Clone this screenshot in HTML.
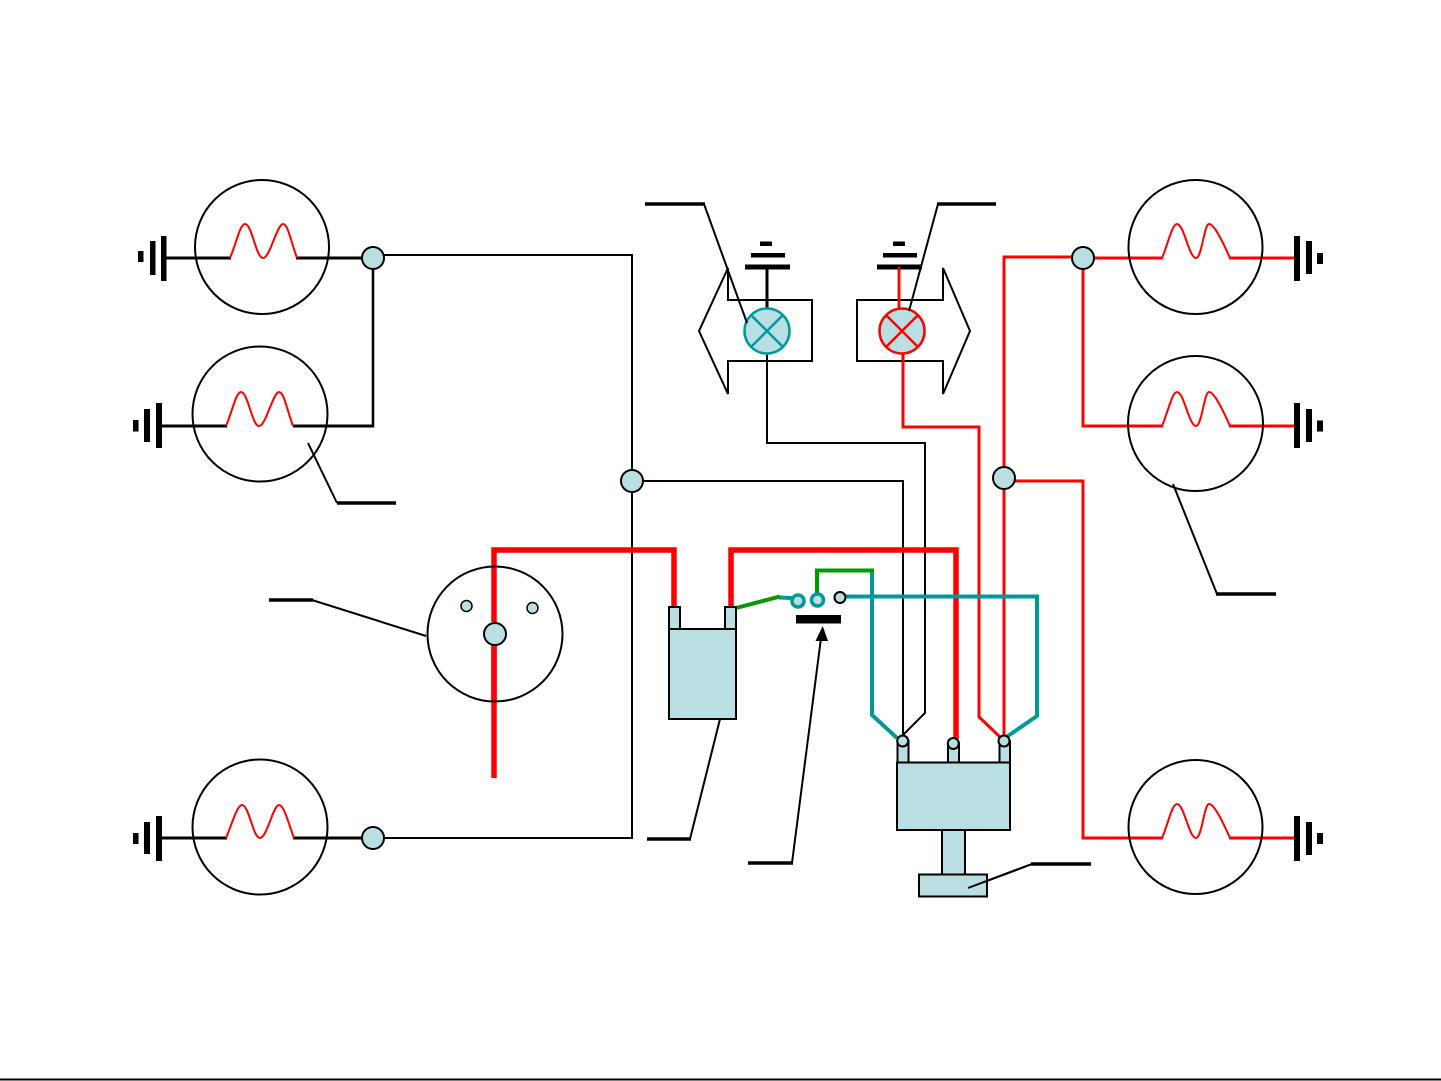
<!DOCTYPE html>
<html><head><meta charset="utf-8"><style>
html,body{margin:0;padding:0;background:#fff;}
svg{display:block;}
</style></head><body>
<svg width="1441" height="1081" viewBox="0 0 1441 1081" xmlns="http://www.w3.org/2000/svg">
<rect width="1441" height="1081" fill="#fff"/>
<g fill="none" stroke-linecap="butt" stroke-linejoin="miter">

<!-- ===== LEFT LAMPS ===== -->
<!-- lamp 1 -->
<circle cx="262" cy="247" r="67" stroke="#000" stroke-width="2"/>
<line x1="164" y1="258" x2="231" y2="258" stroke="#000" stroke-width="3"/>
<line x1="296" y1="258" x2="364" y2="258" stroke="#000" stroke-width="3"/>
<path d="M230,258 C236,244 240,224 245,224 C252,224 256,258 263,258 C270,258 277,224 283,224 C288,224 291,242 297,258" stroke="#f00" stroke-width="2"/>
<!-- lamp 2 -->
<circle cx="260" cy="414" r="67.5" stroke="#000" stroke-width="2"/>
<line x1="160" y1="426" x2="227" y2="426" stroke="#000" stroke-width="3"/>
<line x1="293" y1="426" x2="374" y2="426" stroke="#000" stroke-width="3"/>
<line x1="373" y1="268" x2="373" y2="427" stroke="#000" stroke-width="2.5"/>
<path d="M226,426 C232,412 236,392 241,392 C248,392 252,426 259,426 C266,426 273,392 279,392 C284,392 287,410 293,426" stroke="#f00" stroke-width="2"/>
<!-- lamp 3 (bottom left) -->
<circle cx="260" cy="827" r="67.5" stroke="#000" stroke-width="2"/>
<line x1="160" y1="838" x2="227" y2="838" stroke="#000" stroke-width="3"/>
<line x1="293" y1="838" x2="364" y2="838" stroke="#000" stroke-width="3"/>
<path d="M226,838 C232,824 237,805 242,805 C249,805 253,838 260,838 C267,838 273,805 279,805 C284,805 288,822 294,838" stroke="#f00" stroke-width="2"/>

<!-- black left wiring -->
<line x1="383" y1="255" x2="633" y2="255" stroke="#000" stroke-width="2"/>
<line x1="632" y1="254" x2="632" y2="839" stroke="#000" stroke-width="2"/>
<line x1="383" y1="838" x2="633" y2="838" stroke="#000" stroke-width="2"/>
<line x1="642" y1="481" x2="904" y2="481" stroke="#000" stroke-width="2"/>
<line x1="903" y1="480" x2="903" y2="737" stroke="#000" stroke-width="2"/>
<!-- left indicator to distributor -->
<line x1="767" y1="353" x2="767" y2="443" stroke="#000" stroke-width="2"/>
<line x1="766" y1="443" x2="926" y2="443" stroke="#000" stroke-width="2"/>
<polyline points="925,442 925,713 903,735" stroke="#000" stroke-width="2"/>

<!-- ===== RIGHT RED WIRING ===== -->
<polyline points="903,354 903,427 979,427 979,717 1000,737" stroke="#f00" stroke-width="3"/>
<line x1="899" y1="267" x2="899" y2="309" stroke="#f00" stroke-width="2.5"/>
<polyline points="1083,257 1004,257 1004,739" stroke="#f00" stroke-width="3"/>
<line x1="1083" y1="258" x2="1163" y2="258" stroke="#f00" stroke-width="3"/>
<line x1="1229" y1="258" x2="1298" y2="258" stroke="#f00" stroke-width="3"/>
<polyline points="1083,258 1083,426 1163,426" stroke="#f00" stroke-width="3"/>
<line x1="1229" y1="426" x2="1298" y2="426" stroke="#f00" stroke-width="3"/>
<polyline points="1004,481 1083,481 1083,838 1163,838" stroke="#f00" stroke-width="3"/>
<line x1="1229" y1="838" x2="1298" y2="838" stroke="#f00" stroke-width="3"/>

<!-- right lamps -->
<circle cx="1195.5" cy="247" r="67" stroke="#000" stroke-width="2"/>
<path d="M1162,258 C1168,244 1172,224 1177,224 C1184,224 1189,258 1196,258 C1202,258 1204,224 1209,224 C1214,224 1222,240 1230,258" stroke="#f00" stroke-width="2"/>
<circle cx="1195.5" cy="423.5" r="67.5" stroke="#000" stroke-width="2"/>
<path d="M1162,426 C1168,412 1172,392 1177,392 C1184,392 1189,426 1196,426 C1202,426 1204,392 1209,392 C1214,392 1222,408 1230,426" stroke="#f00" stroke-width="2"/>
<circle cx="1195.5" cy="827" r="67" stroke="#000" stroke-width="2"/>
<path d="M1162,838 C1168,824 1172,804 1177,804 C1184,804 1189,838 1196,838 C1202,838 1204,804 1209,804 C1214,804 1222,820 1230,838" stroke="#f00" stroke-width="2"/>

<!-- ===== THICK RED ===== -->
<polyline points="494,622 494,550 674,550 674,608" stroke="#f00" stroke-width="5.5"/>
<line x1="494" y1="645" x2="494" y2="778" stroke="#f00" stroke-width="5.5"/>
<polyline points="731,608 731,550 956,550 956,739" stroke="#f00" stroke-width="5.5"/>

<!-- ===== TEAL / GREEN ===== -->
<polyline points="846,596.5 1037,596.5 1037,716 1005,738" stroke="#009999" stroke-width="4"/>
<polyline points="872,571 872,715 897,738" stroke="#009999" stroke-width="4"/>
<line x1="779" y1="597.5" x2="792" y2="598" stroke="#009999" stroke-width="4"/>
<line x1="736" y1="608" x2="780" y2="596.5" stroke="#009900" stroke-width="4"/>
<polyline points="817,593 817,570.5 874,570.5" stroke="#009900" stroke-width="4"/>

<!-- ===== INDICATOR ARROWS ===== -->
<polygon points="812,300 728,300 728,268 699,331 728,394 728,361 812,361" stroke="#000" stroke-width="2" fill="#fff"/>
<polygon points="857,300 943,300 943,268 970,331 943,394 943,361 857,361" stroke="#000" stroke-width="2" fill="#fff"/>
<line x1="899" y1="267" x2="899" y2="309" stroke="#f00" stroke-width="2.5"/>
<line x1="767" y1="268" x2="767" y2="309" stroke="#000" stroke-width="3"/>
<line x1="767" y1="353" x2="767" y2="362" stroke="#000" stroke-width="2"/>
<line x1="903" y1="354" x2="903" y2="362" stroke="#f00" stroke-width="3"/>
<!-- lamps -->
<circle cx="767" cy="331" r="22.5" fill="#BADFE2" stroke="#009999" stroke-width="2.5"/>
<line x1="751" y1="315" x2="783" y2="347" stroke="#009999" stroke-width="2.5"/>
<line x1="783" y1="315" x2="751" y2="347" stroke="#009999" stroke-width="2.5"/>
<circle cx="902" cy="331" r="22.5" fill="#BADFE2" stroke="#f00" stroke-width="2.5"/>
<line x1="886" y1="315" x2="918" y2="347" stroke="#f00" stroke-width="2.5"/>
<line x1="918" y1="315" x2="886" y2="347" stroke="#f00" stroke-width="2.5"/>

<!-- leaders top -->
<polyline points="747,323 704,204" stroke="#000" stroke-width="2"/>
<line x1="645" y1="204" x2="705" y2="204" stroke="#000" stroke-width="3.5"/>
<polyline points="909,311 938,204" stroke="#000" stroke-width="2"/>
<line x1="937" y1="204" x2="996" y2="204" stroke="#000" stroke-width="3.5"/>

<!-- leaders -->
<polyline points="308,443 337,503" stroke="#000" stroke-width="2"/>
<line x1="337" y1="503" x2="396" y2="503" stroke="#000" stroke-width="3.5"/>
<polyline points="426,636 312,600" stroke="#000" stroke-width="2"/>
<line x1="269" y1="600" x2="313" y2="600" stroke="#000" stroke-width="3.5"/>
<polyline points="720,719 690,839" stroke="#000" stroke-width="2"/>
<line x1="647" y1="839" x2="691" y2="839" stroke="#000" stroke-width="3.5"/>
<polyline points="792,863 821,638" stroke="#000" stroke-width="2"/>
<line x1="748" y1="863" x2="793" y2="863" stroke="#000" stroke-width="3.5"/>
<polyline points="968,888 1032,864" stroke="#000" stroke-width="2"/>
<line x1="1031" y1="864" x2="1091" y2="864" stroke="#000" stroke-width="3.5"/>
<polyline points="1173,484 1217,594" stroke="#000" stroke-width="2"/>
<line x1="1216" y1="594" x2="1276" y2="594" stroke="#000" stroke-width="3.5"/>
</g>

<!-- ===== GROUND SYMBOLS ===== -->
<g fill="#000">
<!-- left -->
<rect x="138" y="251" width="5.5" height="11"/>
<rect x="150" y="241" width="5.5" height="34"/>
<rect x="161" y="236" width="5.5" height="45"/>
<rect x="133" y="420" width="5.5" height="11.5"/>
<rect x="144" y="409" width="6" height="33"/>
<rect x="156" y="403" width="6" height="45"/>
<rect x="133" y="833" width="5.5" height="11"/>
<rect x="144" y="822" width="6" height="32"/>
<rect x="156" y="816" width="6" height="45"/>
<!-- right -->
<rect x="1294" y="236" width="6" height="45"/>
<rect x="1306" y="241" width="6" height="33"/>
<rect x="1317" y="253" width="6" height="11"/>
<rect x="1294" y="403" width="6" height="45"/>
<rect x="1306" y="409" width="6" height="33"/>
<rect x="1317" y="420.5" width="6" height="11"/>
<rect x="1294" y="816" width="6" height="45"/>
<rect x="1306" y="822" width="6" height="33"/>
<rect x="1317" y="833" width="6" height="11"/>
<!-- indicator grounds -->
<rect x="745" y="264.5" width="45" height="5"/>
<rect x="751" y="253" width="34" height="4.5"/>
<rect x="760" y="241.5" width="12" height="4.5"/>
<rect x="877" y="264.5" width="45" height="5"/>
<rect x="883" y="253" width="34" height="4.5"/>
<rect x="893" y="241.5" width="12" height="4.5"/>
<!-- switch bar -->
<rect x="796" y="615" width="45" height="8.5"/>
<!-- arrow head -->
<polygon points="822.7,626 815.5,641 828,641"/>
</g>
<line x1="899" y1="267" x2="899" y2="309" stroke="#f00" stroke-width="2.5"/>

<!-- ===== DISTRIBUTOR CAP (circle) ===== -->
<circle cx="495" cy="634" r="67.5" fill="none" stroke="#000" stroke-width="2"/>
<line x1="494" y1="645" x2="494" y2="700" stroke="#f00" stroke-width="5.5"/>
<circle cx="466.5" cy="606" r="5.5" fill="#BADFE2" stroke="#000" stroke-width="1.5"/>
<circle cx="532.5" cy="608" r="5.5" fill="#BADFE2" stroke="#000" stroke-width="1.5"/>
<circle cx="495" cy="634" r="11" fill="#BADFE2" stroke="#000" stroke-width="2"/>

<!-- ===== NODES ===== -->
<g fill="#BADFE2" stroke="#000" stroke-width="2">
<circle cx="373" cy="258" r="11"/>
<circle cx="373" cy="838" r="11"/>
<circle cx="632" cy="481" r="11"/>
<circle cx="1083" cy="258" r="11"/>
<circle cx="1004" cy="478" r="11"/>
</g>

<!-- ===== COIL ===== -->
<g fill="#BADFE2" stroke="#000" stroke-width="2">
<rect x="669" y="607" width="11" height="22"/>
<rect x="725" y="607" width="11" height="22"/>
<rect x="669" y="629" width="67" height="90"/>
</g>

<!-- ===== SWITCH CONTACTS ===== -->
<circle cx="798" cy="601" r="6" fill="#BADFE2" stroke="#009999" stroke-width="3.5"/>
<circle cx="817.5" cy="600" r="6" fill="#BADFE2" stroke="#009999" stroke-width="3.5"/>
<circle cx="840" cy="597.5" r="5.5" fill="#BADFE2" stroke="#000" stroke-width="2"/>

<!-- ===== DISTRIBUTOR UNIT ===== -->
<g fill="#BADFE2" stroke="#000" stroke-width="2">
<rect x="897.5" y="741" width="11" height="21.5"/>
<rect x="948" y="743" width="11" height="19.5"/>
<rect x="999.5" y="741" width="10.5" height="21.5"/>
<rect x="897" y="762.5" width="113" height="67.5"/>
<rect x="942" y="830" width="23" height="44.5"/>
<rect x="919" y="874.5" width="68" height="22"/>
<circle cx="902.7" cy="741" r="5.5"/>
<circle cx="953.3" cy="743.5" r="5.5"/>
<circle cx="1004" cy="741" r="5.5"/>
</g>
<polyline points="968,888 1032,864" fill="none" stroke="#000" stroke-width="2"/>

<!-- bottom border -->
<line x1="0" y1="1079.5" x2="1441" y2="1079.5" stroke="#000" stroke-width="2"/>
</svg>
</body></html>
